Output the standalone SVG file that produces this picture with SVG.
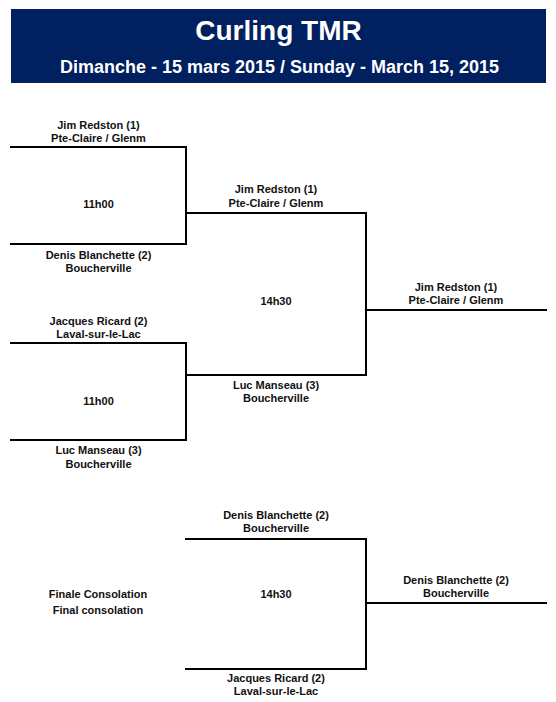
<svg xmlns="http://www.w3.org/2000/svg" width="556" height="702" viewBox="0 0 556 702">
<style>
.hdr{fill:#002060}
.t1{font-family:"Liberation Sans",Arial,sans-serif;font-weight:bold;font-size:28px;fill:#fff;text-anchor:middle}
.t2{font-family:"Liberation Sans",Arial,sans-serif;font-weight:bold;font-size:18px;fill:#fff;text-anchor:middle}
.lb{font-family:"Liberation Sans",Arial,sans-serif;font-weight:bold;font-size:11px;fill:#111;text-anchor:middle}
.ln{stroke:#000;stroke-width:2;fill:none;stroke-linecap:square}
</style>
<rect width="556" height="702" fill="#fff"/>
<g id="header">
<rect class="hdr" x="11" y="9" width="535" height="74"/>
<text class="t1" x="278.5" y="40">Curling TMR</text>
<text class="t2" x="279.5" y="73">Dimanche - 15 mars 2015 / Sunday - March 15, 2015</text>
</g>
<g id="connectors">
<path class="ln" d="M11,147 H186 V244 H11"/>
<path class="ln" d="M11,343 H186 V440 H11"/>
<path class="ln" d="M186,213 H366 V375 H186"/>
<path class="ln" d="M366,310 H546"/>
<path class="ln" d="M186,539 H366 V669 H186"/>
<path class="ln" d="M366,603 H546"/>
</g>
<g id="m1-top"><text class="lb" x="98.5" y="129">Jim Redston (1)</text><text class="lb" x="98.5" y="142">Pte-Claire / Glenm</text></g>
<g id="m1-time"><text class="lb" x="98.5" y="208">11h00</text></g>
<g id="m1-bot"><text class="lb" x="98.5" y="259">Denis Blanchette (2)</text><text class="lb" x="98.5" y="272">Boucherville</text></g>
<g id="m2-top"><text class="lb" x="98.5" y="325">Jacques Ricard (2)</text><text class="lb" x="98.5" y="338">Laval-sur-le-Lac</text></g>
<g id="m2-time"><text class="lb" x="98.5" y="405">11h00</text></g>
<g id="m2-bot"><text class="lb" x="98.5" y="454">Luc Manseau (3)</text><text class="lb" x="98.5" y="468">Boucherville</text></g>
<g id="sf-top"><text class="lb" x="276" y="193">Jim Redston (1)</text><text class="lb" x="276" y="207">Pte-Claire / Glenm</text></g>
<g id="sf-time"><text class="lb" x="276" y="305">14h30</text></g>
<g id="sf-bot"><text class="lb" x="276" y="389">Luc Manseau (3)</text><text class="lb" x="276" y="402">Boucherville</text></g>
<g id="winner"><text class="lb" x="456" y="291">Jim Redston (1)</text><text class="lb" x="456" y="304">Pte-Claire / Glenm</text></g>
<g id="cons-label"><text class="lb" x="98" y="598">Finale Consolation</text><text class="lb" x="98" y="614">Final consolation</text></g>
<g id="cons-top"><text class="lb" x="276" y="519">Denis Blanchette (2)</text><text class="lb" x="276" y="532">Boucherville</text></g>
<g id="cons-time"><text class="lb" x="276" y="598">14h30</text></g>
<g id="cons-bot"><text class="lb" x="276" y="682">Jacques Ricard (2)</text><text class="lb" x="276" y="695">Laval-sur-le-Lac</text></g>
<g id="cons-winner"><text class="lb" x="456" y="584">Denis Blanchette (2)</text><text class="lb" x="456" y="597">Boucherville</text></g>
</svg>
